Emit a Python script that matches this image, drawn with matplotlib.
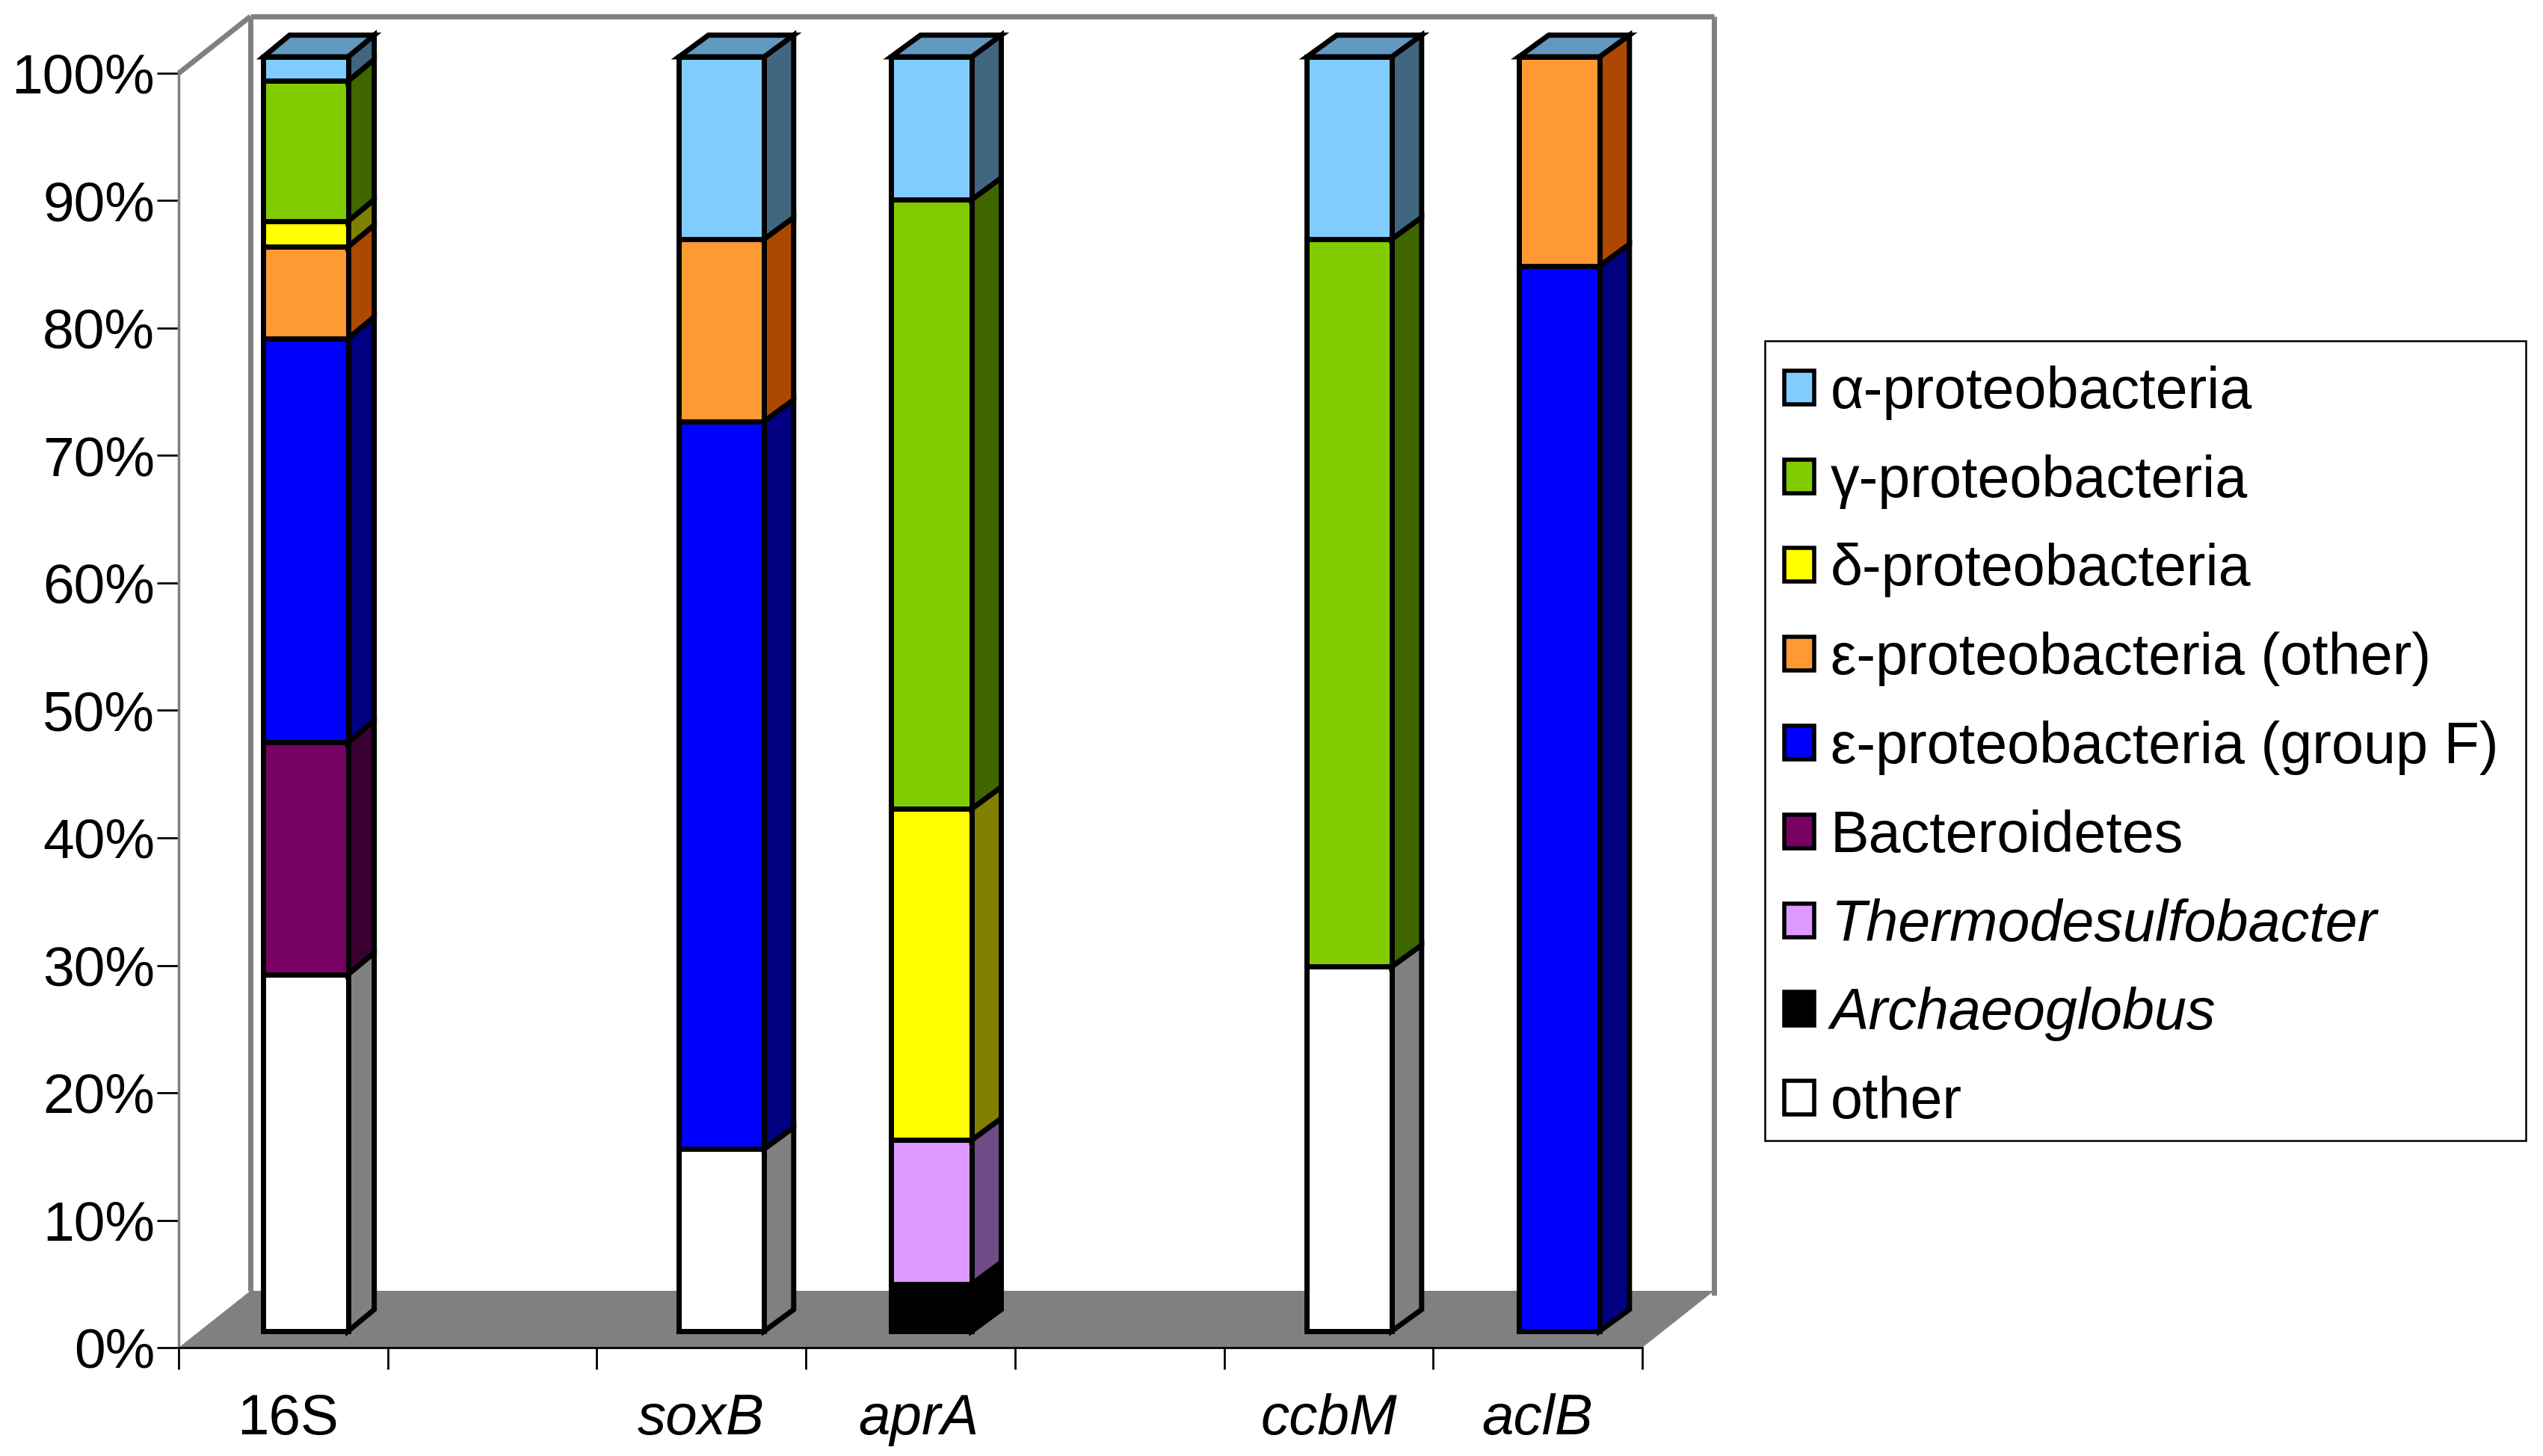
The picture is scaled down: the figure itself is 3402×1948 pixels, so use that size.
"""Stacked 3D-look bar chart of clone library composition per marker gene."""

import matplotlib.pyplot as plt
from matplotlib.patches import Patch, Rectangle
import numpy as np

plt.rcParams["font.family"] = ["Liberation Sans", "DejaVu Sans"]

# blank categories are the empty slots in the original chart
genes = ["16S", "", "soxB", "aprA", "", "ccbM", "aclB"]

other = [28.0, 0, 14.3, 0, 0, 28.6, 0]
archaeoglobus = [0, 0, 0, 3.7, 0, 0, 0]
thermodesulfobacter = [0, 0, 0, 11.3, 0, 0, 0]
bacteroidetes = [18.2, 0, 0, 0, 0, 0, 0]
eps_group_f = [31.7, 0, 57.1, 0, 0, 0, 83.6]
eps_other = [7.2, 0, 14.3, 0, 0, 0, 16.4]
delta = [2.0, 0, 0, 26.0, 0, 0, 0]
gamma = [11.0, 0, 0, 47.8, 0, 57.1, 0]
alpha = [1.9, 0, 14.3, 11.2, 0, 14.3, 0]

# bottom to top in the stack
series = [other, archaeoglobus, thermodesulfobacter, bacteroidetes, eps_group_f, eps_other, delta, gamma, alpha]
names = [
    "other", "Archaeoglobus", "Thermodesulfobacter", "Bacteroidetes",
    "ε-proteobacteria (group F)", "ε-proteobacteria (other)",
    "δ-proteobacteria", "γ-proteobacteria", "α-proteobacteria",
]
front_colors = ["#FFFFFF", "#000000", "#DD99FF", "#770064", "#0000FF", "#FF9933", "#FFFF00", "#80CC00", "#80CCFF"]
side_colors = ["#808080", "#000000", "#6F4C85", "#3B0032", "#000080", "#AD4800", "#808000", "#406600", "#406680"]
TOP_COLOR = "#6199C0"
WALL_COLOR = "#808080"
ITALIC_NAMES = {"Archaeoglobus", "Thermodesulfobacter"}
ITALIC_GENES = {"soxB", "aprA", "ccbM", "aclB"}

WIDTH_PX, HEIGHT_PX = 3402, 1948
AXIS_LEFT, AXIS_RIGHT, AXIS_BOTTOM, AXIS_TOP = 239, 2197, 1803, 98
PX_X = (AXIS_RIGHT - AXIS_LEFT) / len(genes)
PX_Y = (AXIS_BOTTOM - AXIS_TOP) / 100

# oblique projection offsets in pixels, the original renderer rounds them per bar
WALL_DX, WALL_DY = 96 / PX_X, 76 / PX_Y
BAR_SHIFT_PX = [30.2, 0, 27.0, 28.0, 0, 27.7, 28.7]
BAR_WIDTH_PX = [113.2, 0, 114.0, 108.0, 0, 113.4, 108.0]
BAR_DEPTH_PX = [35.0, 0, 39.5, 39.5, 0, 40.0, 40.0]
BAR_DY = 29 / PX_Y
BAR_LIFT = 22 / PX_Y
EDGE_LW = 5.0
LABEL_NUDGE = [0.023, 0, 0, 0.039, 0, 0, 0]

# legend frame is drawn by hand, matplotlib pads it evenly and the original does not
LEGEND_LEFT, LEGEND_RIGHT, LEGEND_TOP, LEGEND_BOTTOM = 2361, 3379, 456, 1526


def draw_box(ax):
    n = len(genes)
    ax.fill(
        [0, WALL_DX, n + WALL_DX, n], [0, WALL_DY, WALL_DY, 0],
        color=WALL_COLOR, lw=0, zorder=0.5, clip_on=False,
    )
    for xs, ys in [
        ([0, WALL_DX], [100, 100 + WALL_DY]),
        ([WALL_DX, WALL_DX], [WALL_DY, 100 + WALL_DY]),
        ([WALL_DX, n + WALL_DX], [100 + WALL_DY, 100 + WALL_DY]),
        ([n + WALL_DX, n + WALL_DX], [WALL_DY - 0.35, 100 + WALL_DY]),
    ]:
        ax.plot(xs, ys, color=WALL_COLOR, lw=5.0, zorder=0.6, clip_on=False, solid_capstyle="butt")


def draw_bars(ax):
    for i, gene in enumerate(genes):
        if not gene:
            continue
        width = BAR_WIDTH_PX[i] / PX_X
        depth = BAR_DEPTH_PX[i] / PX_X
        left = i + 0.5 + BAR_SHIFT_PX[i] / PX_X - width / 2
        right = left + width
        base = BAR_LIFT
        for values, front, side in zip(series, front_colors, side_colors):
            value = values[i]
            if value <= 0:
                continue
            ax.fill(
                [right, right + depth, right + depth, right],
                [base, base + BAR_DY, base + value + BAR_DY, base + value],
                facecolor=side, edgecolor="black", lw=EDGE_LW, zorder=3, clip_on=False,
            )
            ax.bar(
                left, value, width=width, bottom=base, align="edge",
                color=front, edgecolor="black", linewidth=EDGE_LW, zorder=3, clip_on=False,
            )
            base += value
        # the zero-height alpha segment still caps every bar
        ax.fill(
            [left, left + depth, right + depth, right],
            [base, base + BAR_DY, base + BAR_DY, base],
            facecolor=TOP_COLOR, edgecolor="black", lw=EDGE_LW, zorder=3, clip_on=False,
        )


fig = plt.figure(figsize=(WIDTH_PX / 100, HEIGHT_PX / 100), dpi=100, facecolor="white")
ax = fig.add_axes([
    AXIS_LEFT / WIDTH_PX,
    1 - AXIS_BOTTOM / HEIGHT_PX,
    (AXIS_RIGHT - AXIS_LEFT) / WIDTH_PX,
    (AXIS_BOTTOM - AXIS_TOP) / HEIGHT_PX,
])
ax.set_xlim(0, len(genes))
ax.set_ylim(0, 100)
ax.patch.set_visible(False)

draw_box(ax)
draw_bars(ax)

for name in ["top", "right"]:
    ax.spines[name].set_visible(False)
ax.spines["left"].set_color(WALL_COLOR)
ax.spines["left"].set_linewidth(2.5)
ax.spines["bottom"].set_color("black")
ax.spines["bottom"].set_linewidth(2.0)

ax.set_yticks(np.arange(0, 101, 10))
ax.set_yticklabels([f"{v}%" for v in range(0, 101, 10)])
ax.tick_params(axis="y", length=21, width=2, pad=2, labelsize=54)

ax.set_xticks(np.arange(len(genes) + 1))
ax.set_xticklabels([])
ax.tick_params(axis="x", which="major", length=21, width=2)

ax.set_xticks(np.arange(len(genes)) + 0.5 + np.array(LABEL_NUDGE), genes, minor=True)
ax.tick_params(axis="x", which="minor", length=0, pad=44, labelsize=55)
for label in ax.get_xticklabels(minor=True):
    if label.get_text() in ITALIC_GENES:
        label.set_fontstyle("italic")

fig.add_artist(Rectangle(
    (LEGEND_LEFT / WIDTH_PX, 1 - LEGEND_BOTTOM / HEIGHT_PX),
    (LEGEND_RIGHT - LEGEND_LEFT) / WIDTH_PX,
    (LEGEND_BOTTOM - LEGEND_TOP) / HEIGHT_PX,
    transform=fig.transFigure, facecolor="white", edgecolor="black", linewidth=1.8,
))
handles = [
    Patch(facecolor=color, edgecolor="black", linewidth=4, label=name)
    for name, color in zip(names[::-1], front_colors[::-1])
]
legend = fig.legend(
    handles=handles, loc="upper left",
    bbox_to_anchor=(LEGEND_LEFT / WIDTH_PX, 1 - (LEGEND_TOP + 6.5) / HEIGHT_PX),
    fontsize=55.6, frameon=False,
    handlelength=0.52, handleheight=0.52, handletextpad=0.28, labelspacing=0.593,
    borderpad=0.34, borderaxespad=0,
)
for text in legend.get_texts():
    if text.get_text() in ITALIC_NAMES:
        text.set_fontstyle("italic")

fig.savefig("out.png", dpi=100)
